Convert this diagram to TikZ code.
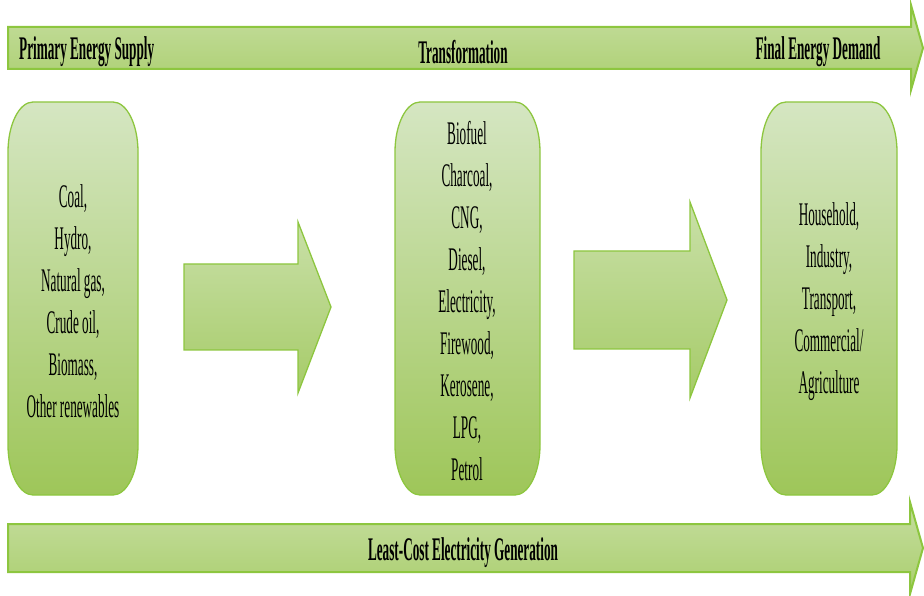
\documentclass[tikz,border=0pt]{standalone}
\usepackage{fontspec}
\setmainfont{Liberation Serif}[FakeStretch=0.4]
\usetikzlibrary{calc}
\definecolor{edgegreen}{HTML}{8DC63F}
\definecolor{boxtop}{HTML}{D5E6C2}
\definecolor{boxbottom}{HTML}{9EC659}
\definecolor{arrtop}{HTML}{C9E0A8}
\definecolor{arrbottom}{HTML}{A6CB68}
\definecolor{bandtop}{HTML}{C6DEA0}
\definecolor{bandbottom}{HTML}{AACE6E}
\tikzset{
  panel/.style={draw=edgegreen, line width=1.3pt, top color=boxtop, bottom color=boxbottom},
  flowarrow/.style={draw=edgegreen, line width=1.3pt, top color=arrtop, bottom color=arrbottom, line join=miter},
  band/.style={draw=edgegreen, line width=2pt, top color=bandtop, bottom color=bandbottom, line join=miter},
  bandlabel/.style={font=\bfseries\fontsize{33}{36}\selectfont, inner sep=0pt},
  panellabel/.style={font=\fontsize{33}{42}\selectfont, align=center, inner sep=0pt}
}
\begin{document}
\begin{tikzpicture}[x=1pt,y=1pt]
\useasboundingbox (0,0) rectangle (924,595);

% stage band across the top
\path[band] (8,568) -- (911,568) -- (911,590) -- (923,547) -- (911,505) -- (911,526) -- (8,526) -- cycle;
% electricity band across the bottom
\path[band] (8,71) -- (910,71) -- (910,93) -- (923,47) -- (910,1) -- (910,23) -- (8,23) -- cycle;

\node[bandlabel, anchor=west] (supply) at (19,543) {Primary Energy Supply};
\node[bandlabel] (transf) at (463,543) {Transformation};
\node[bandlabel] (demand) at (818,543) {Final Energy Demand};
\node[bandlabel] (lcg) at (463,42) {Least-Cost Electricity Generation};

% three panels with oval corners
\path[panel] (33,493) -- (113,493) arc[start angle=90,end angle=0,x radius=25pt,y radius=50pt]
  -- (138,150) arc[start angle=0,end angle=-90,x radius=25pt,y radius=50pt]
  -- (33,100) arc[start angle=270,end angle=180,x radius=25pt,y radius=50pt]
  -- (8,443) arc[start angle=180,end angle=90,x radius=25pt,y radius=50pt] -- cycle;
\path[panel] (420,493) -- (515,493) arc[start angle=90,end angle=0,x radius=25pt,y radius=50pt]
  -- (540,150) arc[start angle=0,end angle=-90,x radius=25pt,y radius=50pt]
  -- (420,100) arc[start angle=270,end angle=180,x radius=25pt,y radius=50pt]
  -- (395,443) arc[start angle=180,end angle=90,x radius=25pt,y radius=50pt] -- cycle;
\path[panel] (786,493) -- (872,493) arc[start angle=90,end angle=0,x radius=25pt,y radius=50pt]
  -- (897,150) arc[start angle=0,end angle=-90,x radius=25pt,y radius=50pt]
  -- (786,100) arc[start angle=270,end angle=180,x radius=25pt,y radius=50pt]
  -- (761,443) arc[start angle=180,end angle=90,x radius=25pt,y radius=50pt] -- cycle;

\node[panellabel] (primary) at (73,294) {Coal,\\Hydro,\\Natural gas,\\Crude oil,\\Biomass,\\Other renewables};
\node[panellabel] (carriers) at (467,294) {Biofuel\\Charcoal,\\CNG,\\Diesel,\\Electricity,\\Firewood,\\Kerosene,\\LPG,\\Petrol};
\node[panellabel] (sectors) at (829,293) {Household,\\Industry,\\Transport,\\Commercial/\\Agriculture};

% block arrows between panels
\path[flowarrow] (184,331) -- (298,331) -- (298,373) -- (331,288) -- (298,202) -- (298,245) -- (184,245) -- cycle;
\path[flowarrow] (574,344) -- (690,344) -- (690,393) -- (727,295) -- (690,197) -- (690,246) -- (574,246) -- cycle;
\end{tikzpicture}
\end{document}
